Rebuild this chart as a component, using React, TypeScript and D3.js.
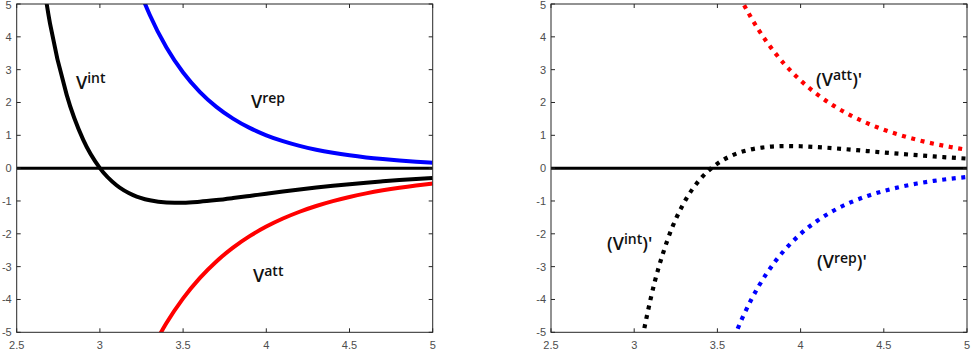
import React from "react";
import * as d3 from "d3";

// distance r (x values)
const R = [2.6, 2.7, 2.8, 2.9, 3.0, 3.1, 3.2, 3.3, 3.4, 3.5, 3.6, 3.7, 3.8, 3.9, 4.0, 4.1, 4.2, 4.3, 4.4, 4.5, 4.6, 4.7, 4.8, 4.9, 5.0];

// potentials (left panel)
const V_INT = [7.82, 4.41, 2.24, 0.86, 0.0, -0.521, -0.822, -0.98, -1.045, -1.052, -1.023, -0.973, -0.912, -0.846, -0.779, -0.713, -0.651, -0.592, -0.538, -0.488, -0.442, -0.401, -0.363, -0.329, -0.299];
const V_REP = [31.42, 23.23, 17.37, 13.12, 10.0, 7.693, 5.967, 4.665, 3.674, 2.914, 2.326, 1.868, 1.509, 1.226, 1.001, 0.822, 0.678, 0.561, 0.467, 0.39, 0.327, 0.276, 0.233, 0.197, 0.168];
const V_ATT = [-23.6, -18.82, -15.13, -12.26, -10.0, -8.214, -6.789, -5.645, -4.719, -3.966, -3.349, -2.841, -2.421, -2.072, -1.78, -1.535, -1.328, -1.153, -1.005, -0.878, -0.769, -0.676, -0.596, -0.527, -0.467];

// derivatives (right panel)
const D_INT = [-42.21, -27.02, -17.2, -10.82, -6.67, -3.954, -2.188, -1.046, -0.317, 0.139, 0.414, 0.569, 0.646, 0.673, 0.667, 0.642, 0.607, 0.565, 0.521, 0.477, 0.435, 0.394, 0.357, 0.323, 0.291];
const D_REP = [-96.67, -68.83, -49.62, -36.18, -26.67, -19.852, -14.918, -11.309, -8.645, -6.66, -5.168, -4.039, -3.177, -2.515, -2.002, -1.603, -1.291, -1.044, -0.849, -0.694, -0.569, -0.469, -0.388, -0.322, -0.269];
const D_ATT = [54.46, 41.82, 32.42, 25.36, 20.0, 15.898, 12.73, 10.263, 8.328, 6.798, 5.582, 4.607, 3.823, 3.187, 2.67, 2.246, 1.897, 1.609, 1.37, 1.171, 1.004, 0.863, 0.745, 0.645, 0.56];

const X_TICKS = [2.5, 3, 3.5, 4, 4.5, 5];
const X_TICK_LABELS = ["2.5", "3", "3.5", "4", "4.5", "5"];
const Y_TICKS = [-5, -4, -3, -2, -1, 0, 1, 2, 3, 4, 5];
const Y_TICK_LABELS = ["-5", "-4", "-3", "-2", "-1", "0", "1", "2", "3", "4", "5"];

const W = 971;
const H = 353;
const TOP = 4;
const BOTTOM = 332.3;
const AXIS_COLOR = "#262626";
const TICK_TEXT = "#4d4d4d";
const LABEL_FONT = "'Open Sans', 'DejaVu Sans', sans-serif";

type Series = { values: number[]; color: string; dotted: boolean };
type Label = { x: number; y: number; sup: string; paren: boolean; supDy: number };

function Panel({ id, left, right, series, labels }: { id: string; left: number; right: number; series: Series[]; labels: Label[] }) {
  const x = d3.scaleLinear().domain([2.5, 5]).range([left, right]);
  const y = d3.scaleLinear().domain([-5, 5]).range([BOTTOM, TOP]);
  const tick = 4;
  const line = (vals: number[]) =>
    d3
      .line<number>()
      .x((_, i) => x(R[i]))
      .y((d) => y(d))
      .curve(d3.curveMonotoneX)(vals) as string;
  const zero = d3.line<number>().x((d) => x(d)).y(() => y(0))([2.5, 5]) as string;
  return (
    <g>
      <defs>
        <clipPath id={id}>
          <rect x={left} y={TOP} width={right - left} height={BOTTOM - TOP} />
        </clipPath>
      </defs>
      <g clipPath={`url(#${id})`}>
        {series.map((s, i) => (
          <path
            key={i}
            d={line(s.values)}
            fill="none"
            stroke={s.color}
            strokeWidth={s.dotted ? 4.2 : 4}
            strokeDasharray={s.dotted ? "4 5.6" : undefined}
          />
        ))}
        <path d={zero} stroke="#000" strokeWidth={3} fill="none" />
      </g>
      {/* box */}
      <rect x={left} y={TOP} width={right - left} height={BOTTOM - TOP} fill="none" stroke={AXIS_COLOR} strokeWidth={1} />
      {X_TICKS.map((t, i) => (
        <g key={"x" + i}>
          <line x1={x(t)} x2={x(t)} y1={BOTTOM} y2={BOTTOM - tick} stroke={AXIS_COLOR} />
          <line x1={x(t)} x2={x(t)} y1={TOP} y2={TOP + tick} stroke={AXIS_COLOR} />
          <text x={x(t)} y={349} textAnchor="middle" fontSize={11} fontFamily="'Liberation Sans', Arial, sans-serif" fill={TICK_TEXT}>
            {X_TICK_LABELS[i]}
          </text>
        </g>
      ))}
      {Y_TICKS.map((t, i) => (
        <g key={"y" + i}>
          <line x1={left} x2={left + tick} y1={y(t)} y2={y(t)} stroke={AXIS_COLOR} />
          <line x1={right} x2={right - tick} y1={y(t)} y2={y(t)} stroke={AXIS_COLOR} />
          <text x={left - 5} y={Math.max(y(t) + 4, 9)} textAnchor="end" fontSize={11} fontFamily="'Liberation Sans', Arial, sans-serif" fill={TICK_TEXT}>
            {Y_TICK_LABELS[i]}
          </text>
        </g>
      ))}
      {labels.map((l, i) => (
        <text key={"l" + i} x={l.x} y={l.y} fontSize={18} fontFamily={LABEL_FONT} fontWeight={600} fill="#111">
          {l.paren ? "(" : ""}V
          <tspan fontSize={14} dy={l.supDy}>{l.sup}</tspan>
          {l.paren ? <tspan dy={-l.supDy}>)'</tspan> : null}
        </text>
      ))}
    </g>
  );
}

export default function App() {
  const leftSeries: Series[] = [
    { values: V_REP, color: "#0000ff", dotted: false },
    { values: V_ATT, color: "#ff0000", dotted: false },
    { values: V_INT, color: "#000000", dotted: false },
  ];
  const rightSeries: Series[] = [
    { values: D_ATT, color: "#ff0000", dotted: true },
    { values: D_REP, color: "#0000ff", dotted: true },
    { values: D_INT, color: "#000000", dotted: true },
  ];
  const leftLabels: Label[] = [
    { x: 76, y: 89, sup: "int", paren: false, supDy: -6 },
    { x: 251, y: 107.5, sup: "rep", paren: false, supDy: -5 },
    { x: 253, y: 281.5, sup: "att", paren: false, supDy: -6 },
  ];
  const rightLabels: Label[] = [
    { x: 816, y: 86, sup: "att", paren: true, supDy: -6 },
    { x: 607, y: 250, sup: "int", paren: true, supDy: -6 },
    { x: 817, y: 268, sup: "rep", paren: true, supDy: -5 },
  ];
  return (
    <svg width={W} height={H} style={{ position: "absolute", left: 0, top: 0, background: "#fff" }}>
      <rect x={0} y={0} width={W} height={H} fill="#fff" />
      <Panel id="clipL" left={16.7} right={432.7} series={leftSeries} labels={leftLabels} />
      <Panel id="clipR" left={551} right={967} series={rightSeries} labels={rightLabels} />
    </svg>
  );
}
